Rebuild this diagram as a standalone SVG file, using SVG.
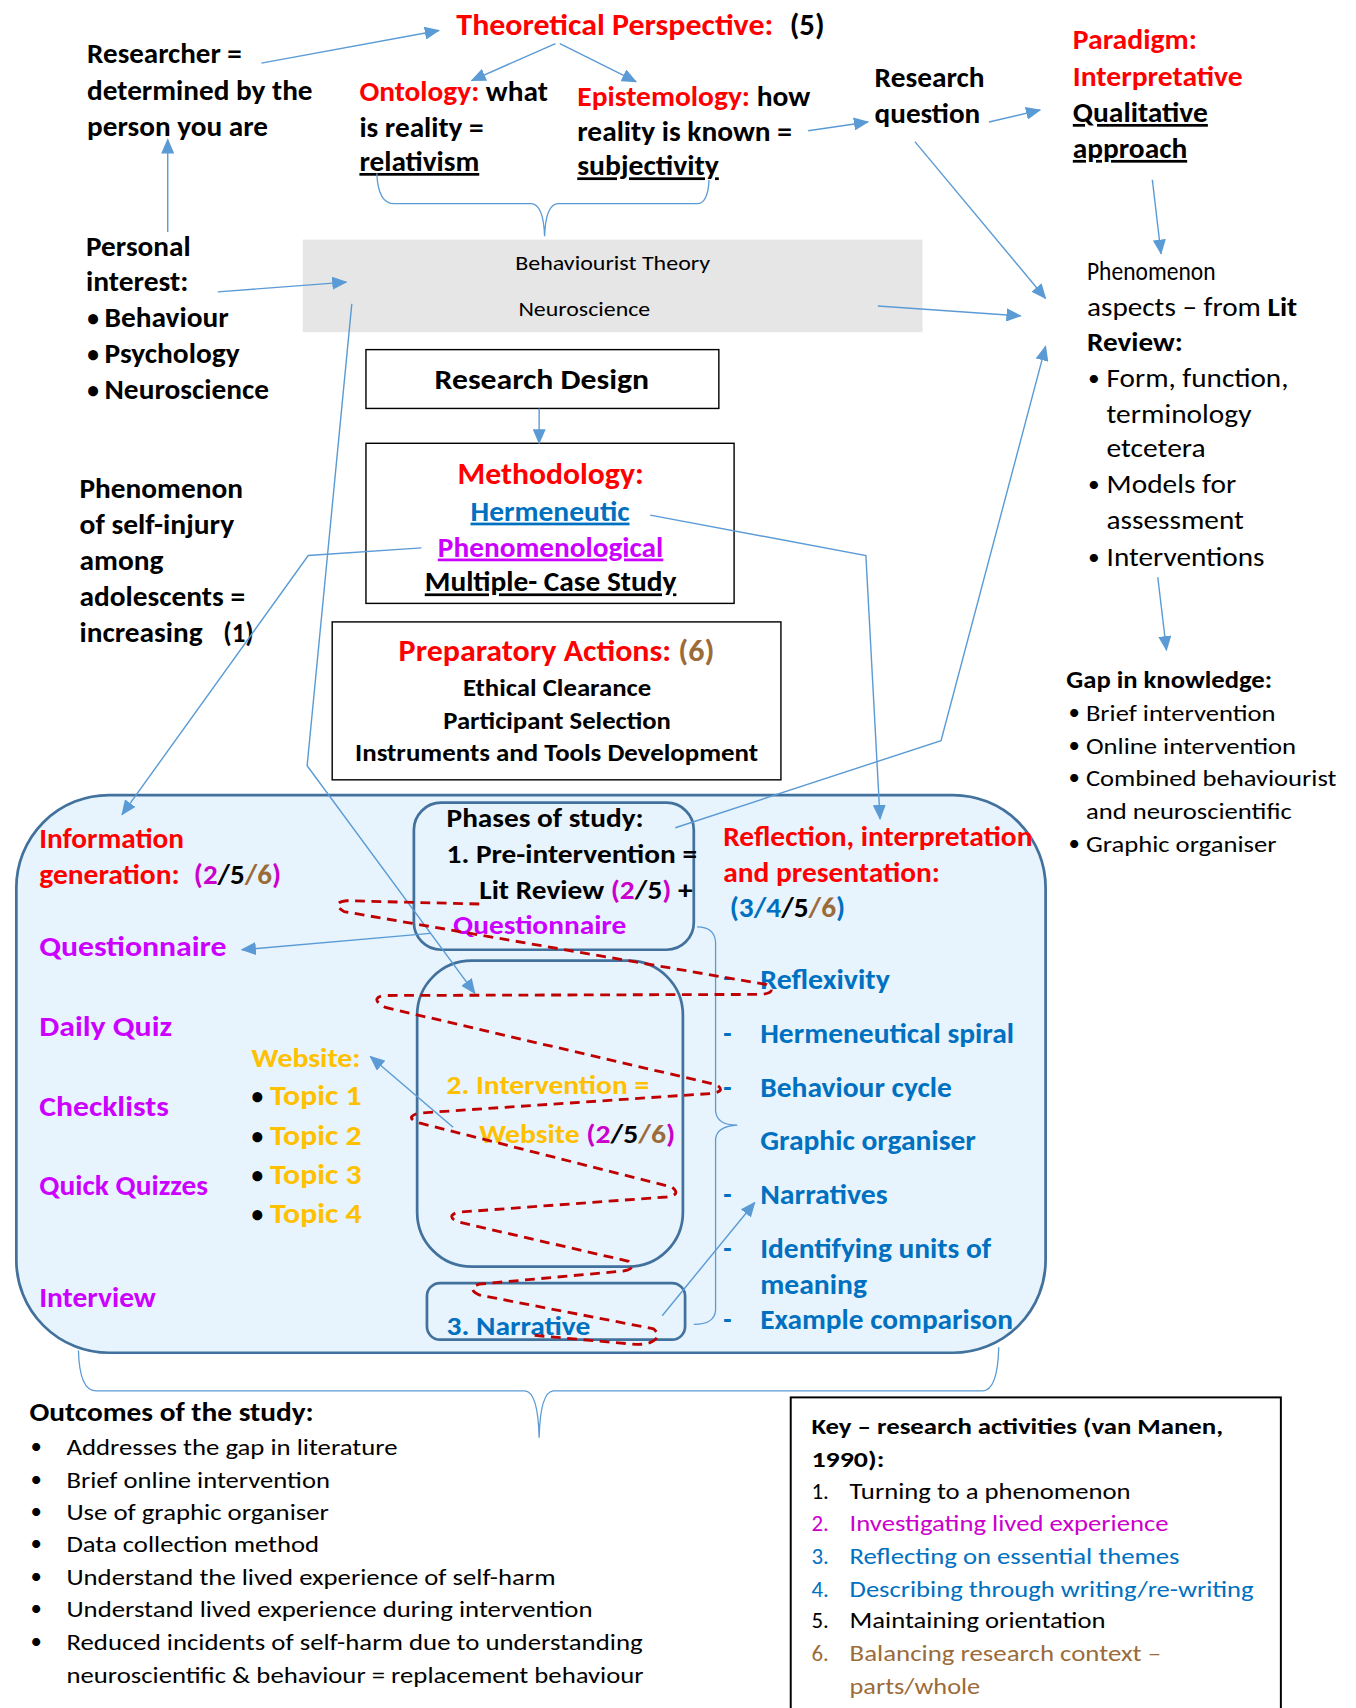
<svg xmlns="http://www.w3.org/2000/svg" width="1356" height="1708" viewBox="0 0 1356 1708">
<defs>
<style>
text{font-family:Carlito,Lato,"Open Sans","Liberation Sans",sans-serif;fill:#000}
.b{font-weight:700}
.u{text-decoration:underline}
.f17{font-size:18.5px}.f19{font-size:21px}.f20{font-size:21.5px}.f22{font-size:24px}.f23{font-size:25px}.f24{font-size:26px}.f25{font-size:27px}
.red{fill:#FF0000}.mag{fill:#CC00FF}.pk{fill:#CC00CC}.blu{fill:#0070C0}.org{fill:#FFC000}.brn{fill:#9C6B3A}.blk{fill:#000}
.box{fill:#fff;stroke:#000;stroke-width:1.3}
.rbox{fill:none;stroke:#41719C;stroke-width:2.5}
.c{fill:none;stroke:#5B9BD5;stroke-width:1.3}
.ca{fill:none;stroke:#5B9BD5;stroke-width:1.3;marker-end:url(#ah)}
.br{fill:none;stroke:#5B9BD5;stroke-width:1.2}
.sp{fill:none;stroke:#C00000;stroke-width:2.6;stroke-dasharray:9 6}
</style>
<marker id="ah" viewBox="0 0 14 12" refX="13" refY="6" markerWidth="14" markerHeight="12" orient="auto" markerUnits="userSpaceOnUse"><path d="M0,0 L14,6 L0,12 z" fill="#5B9BD5"/></marker>
</defs>
<rect width="1356" height="1708" fill="#fff"/>
<g transform="scale(1.08916)">

<g id="study-box">
<rect x="15" y="730" width="945" height="512" rx="85" fill="#E7F4FD" stroke="#41719C" stroke-width="2.5"/>
</g>

<g id="researcher">
<text class="b f23" x="80" y="58" textLength="142" lengthAdjust="spacingAndGlyphs">Researcher =</text>
<text class="b f23" x="80" y="92" textLength="207" lengthAdjust="spacingAndGlyphs">determined by the</text>
<text class="b f23" x="80" y="125" textLength="166" lengthAdjust="spacingAndGlyphs">person you are</text>
</g>

<g id="theoretical">
<text class="b f25 red" x="419" y="32" textLength="291" lengthAdjust="spacingAndGlyphs">Theoretical Perspective:</text>
<text class="b f25" x="725" y="32" textLength="32" lengthAdjust="spacingAndGlyphs">(5)</text>
</g>

<g id="ontology">
<text class="b f23" x="330" y="93" textLength="173" lengthAdjust="spacingAndGlyphs"><tspan class="red">Ontology:</tspan> what</text>
<text class="b f23" x="330" y="126" textLength="114" lengthAdjust="spacingAndGlyphs">is reality =</text>
<text class="b f23 u" x="330" y="157" textLength="110" lengthAdjust="spacingAndGlyphs">relativism</text>
</g>

<g id="epistemology">
<text class="b f23" x="530" y="97" textLength="214" lengthAdjust="spacingAndGlyphs"><tspan class="red">Epistemology:</tspan> how</text>
<text class="b f23" x="530" y="129" textLength="197" lengthAdjust="spacingAndGlyphs">reality is known =</text>
<text class="b f23 u" x="530" y="161" textLength="130" lengthAdjust="spacingAndGlyphs">subjectivity</text>
</g>

<g id="research-question">
<text class="b f23" x="803" y="80" textLength="101" lengthAdjust="spacingAndGlyphs">Research</text>
<text class="b f23" x="803" y="113" textLength="97" lengthAdjust="spacingAndGlyphs">question</text>
</g>

<g id="paradigm">
<text class="b f23 red" x="985" y="45" textLength="114" lengthAdjust="spacingAndGlyphs">Paradigm:</text>
<text class="b f23 red" x="985" y="79" textLength="156" lengthAdjust="spacingAndGlyphs">Interpretative</text>
<text class="b f23 u" x="985" y="112" textLength="124" lengthAdjust="spacingAndGlyphs">Qualitative</text>
<text class="b f23 u" x="985" y="145" textLength="105" lengthAdjust="spacingAndGlyphs">approach</text>
</g>

<g id="phenomenon-aspects">
<text class="f22" x="998" y="257" textLength="118" lengthAdjust="spacingAndGlyphs">Phenomenon</text>
<text class="f22" x="998" y="290" textLength="193" lengthAdjust="spacingAndGlyphs">aspects – from <tspan class="b">Lit</tspan></text>
<text class="f22 b" x="998" y="322" textLength="88" lengthAdjust="spacingAndGlyphs">Review:</text>
<text class="f20" x="999" y="354">•</text>
<text class="f22" x="1016" y="355" textLength="167" lengthAdjust="spacingAndGlyphs">Form, function,</text>
<text class="f22" x="1016" y="388" textLength="133" lengthAdjust="spacingAndGlyphs">terminology</text>
<text class="f22" x="1016" y="420" textLength="91" lengthAdjust="spacingAndGlyphs">etcetera</text>
<text class="f20" x="999" y="452">•</text>
<text class="f22" x="1016" y="453" textLength="119" lengthAdjust="spacingAndGlyphs">Models for</text>
<text class="f22" x="1016" y="486" textLength="126" lengthAdjust="spacingAndGlyphs">assessment</text>
<text class="f20" x="999" y="519">•</text>
<text class="f22" x="1016" y="520" textLength="145" lengthAdjust="spacingAndGlyphs">Interventions</text>
</g>

<g id="theory-box">
<rect x="278" y="220" width="569" height="85" fill="#E6E6E6"/>
<text class="f17" x="473" y="248" textLength="179" lengthAdjust="spacingAndGlyphs">Behaviourist Theory</text>
<text class="f17" x="476" y="290" textLength="121" lengthAdjust="spacingAndGlyphs">Neuroscience</text>
</g>

<g id="personal-interest">
<text class="b f23" x="79" y="235" textLength="96" lengthAdjust="spacingAndGlyphs">Personal</text>
<text class="b f23" x="79" y="267" textLength="94" lengthAdjust="spacingAndGlyphs">interest:</text>
<text class="b f20" x="80" y="299">•</text>
<text class="b f23" x="96" y="300" textLength="114" lengthAdjust="spacingAndGlyphs">Behaviour</text>
<text class="b f20" x="80" y="332">•</text>
<text class="b f23" x="96" y="333" textLength="124" lengthAdjust="spacingAndGlyphs">Psychology</text>
<text class="b f20" x="80" y="365">•</text>
<text class="b f23" x="96" y="366" textLength="151" lengthAdjust="spacingAndGlyphs">Neuroscience</text>
</g>

<g id="research-design">
<rect class="box" x="336" y="321" width="324" height="54"/>
<text class="b f24" x="399" y="357" textLength="197" lengthAdjust="spacingAndGlyphs">Research Design</text>
</g>

<g id="methodology">
<rect class="box" x="336" y="407" width="338" height="147"/>
<text class="b f25 red" x="420" y="444" textLength="171" lengthAdjust="spacingAndGlyphs">Methodology:</text>
<text class="b f23 blu u" x="432" y="478" textLength="146" lengthAdjust="spacingAndGlyphs">Hermeneutic</text>
<text class="b f23 mag u" x="402" y="511" textLength="207" lengthAdjust="spacingAndGlyphs">Phenomenological</text>
<text class="b f23 u" x="390" y="543" textLength="231" lengthAdjust="spacingAndGlyphs">Multiple- Case Study</text>
</g>

<g id="phenomenon-self-injury">
<text class="b f23" x="73" y="457" textLength="150" lengthAdjust="spacingAndGlyphs">Phenomenon</text>
<text class="b f23" x="73" y="490" textLength="142" lengthAdjust="spacingAndGlyphs">of self-injury</text>
<text class="b f23" x="73" y="523" textLength="77" lengthAdjust="spacingAndGlyphs">among</text>
<text class="b f23" x="73" y="556" textLength="152" lengthAdjust="spacingAndGlyphs">adolescents =</text>
<text class="b f23" x="73" y="589" textLength="113" lengthAdjust="spacingAndGlyphs">increasing</text>
<text class="b f23" x="205" y="589" textLength="28" lengthAdjust="spacingAndGlyphs">(1)</text>
</g>

<g id="preparatory-actions">
<rect class="box" x="305" y="571" width="412" height="145"/>
<text class="b f25" x="366" y="607" textLength="290" lengthAdjust="spacingAndGlyphs"><tspan class="red">Preparatory Actions: </tspan><tspan class="brn">(6)</tspan></text>
<text class="b f20" x="425" y="639" textLength="173" lengthAdjust="spacingAndGlyphs">Ethical Clearance</text>
<text class="b f20" x="407" y="669" textLength="209" lengthAdjust="spacingAndGlyphs">Participant Selection</text>
<text class="b f20" x="326" y="699" textLength="370" lengthAdjust="spacingAndGlyphs">Instruments and Tools Development</text>
</g>

<g id="gap-in-knowledge">
<text class="b f20" x="979" y="632" textLength="189" lengthAdjust="spacingAndGlyphs">Gap in knowledge:</text>
<text class="f19" x="981" y="661">•</text>
<text class="f20" x="997" y="662" textLength="174" lengthAdjust="spacingAndGlyphs">Brief intervention</text>
<text class="f19" x="981" y="691">•</text>
<text class="f20" x="997" y="692" textLength="193" lengthAdjust="spacingAndGlyphs">Online intervention</text>
<text class="f19" x="981" y="721">•</text>
<text class="f20" x="997" y="722" textLength="230" lengthAdjust="spacingAndGlyphs">Combined behaviourist</text>
<text class="f20" x="997" y="752" textLength="189" lengthAdjust="spacingAndGlyphs">and neuroscientific</text>
<text class="f19" x="981" y="781">•</text>
<text class="f20" x="997" y="782" textLength="175" lengthAdjust="spacingAndGlyphs">Graphic organiser</text>
</g>

<g id="information-generation">
<text class="b f23 red" x="36" y="779" textLength="133" lengthAdjust="spacingAndGlyphs">Information</text>
<text class="b f23 red" x="36" y="812" textLength="129" lengthAdjust="spacingAndGlyphs">generation:</text>
<text class="b f23" x="178" y="812" textLength="80" lengthAdjust="spacingAndGlyphs"><tspan class="pk">(2</tspan>/5<tspan class="brn">/6</tspan><tspan class="pk">)</tspan></text>
<text class="b f24 mag" x="36" y="878" textLength="172" lengthAdjust="spacingAndGlyphs">Questionnaire</text>
<text class="b f24 mag" x="36" y="951" textLength="122" lengthAdjust="spacingAndGlyphs">Daily Quiz</text>
<text class="b f24 mag" x="36" y="1025" textLength="119" lengthAdjust="spacingAndGlyphs">Checklists</text>
<text class="b f23 mag" x="36" y="1097" textLength="155" lengthAdjust="spacingAndGlyphs">Quick Quizzes</text>
<text class="b f23 mag" x="36" y="1200" textLength="107" lengthAdjust="spacingAndGlyphs">Interview</text>
</g>

<g id="website">
<text class="b f22 org" x="231" y="980" textLength="100" lengthAdjust="spacingAndGlyphs">Website:</text>
<text class="b f20" x="231" y="1014">•</text>
<text class="b f23 org" x="248" y="1015" textLength="84" lengthAdjust="spacingAndGlyphs">Topic 1</text>
<text class="b f20" x="231" y="1050">•</text>
<text class="b f23 org" x="248" y="1051" textLength="84" lengthAdjust="spacingAndGlyphs">Topic 2</text>
<text class="b f20" x="231" y="1086">•</text>
<text class="b f23 org" x="248" y="1087" textLength="84" lengthAdjust="spacingAndGlyphs">Topic 3</text>
<text class="b f20" x="231" y="1122">•</text>
<text class="b f23 org" x="248" y="1123" textLength="84" lengthAdjust="spacingAndGlyphs">Topic 4</text>
</g>

<g id="phases">
<rect class="rbox" x="380" y="737" width="257" height="135" rx="25"/>
<text class="b f22" x="410" y="759" textLength="181" lengthAdjust="spacingAndGlyphs">Phases of study:</text>
<text class="b f22" x="410" y="792" textLength="230" lengthAdjust="spacingAndGlyphs">1. Pre-intervention =</text>
<text class="b f22" x="440" y="825" textLength="196" lengthAdjust="spacingAndGlyphs">Lit Review <tspan class="pk">(2</tspan>/5<tspan class="pk">)</tspan> +</text>
<text class="b f22 mag" x="416" y="858" textLength="159" lengthAdjust="spacingAndGlyphs">Questionnaire</text>
</g>

<g id="intervention">
<rect class="rbox" x="383" y="882" width="244" height="281" rx="50"/>
<text class="b f22 org" x="410" y="1004" textLength="186" lengthAdjust="spacingAndGlyphs">2. Intervention =</text>
<text class="b f22" x="440" y="1049" textLength="180" lengthAdjust="spacingAndGlyphs"><tspan class="org">Website </tspan><tspan class="pk">(2</tspan>/5<tspan class="brn">/6</tspan><tspan class="pk">)</tspan></text>
</g>

<g id="narrative">
<rect class="rbox" x="392" y="1178" width="237" height="52" rx="12"/>
<text class="b f22 blu" x="410" y="1226" textLength="132" lengthAdjust="spacingAndGlyphs">3. Narrative</text>
</g>

<g id="reflection">
<text class="b f23 red" x="664" y="777" textLength="284" lengthAdjust="spacingAndGlyphs">Reflection, interpretation</text>
<text class="b f23 red" x="664" y="810" textLength="199" lengthAdjust="spacingAndGlyphs">and presentation:</text>
<text class="b f23" x="670" y="842" textLength="106" lengthAdjust="spacingAndGlyphs"><tspan class="blu">(3/4</tspan>/5<tspan class="brn">/6</tspan><tspan class="blu">)</tspan></text>
<text class="b f23 blu" x="664" y="906">-</text>
<text class="b f23 blu" x="698" y="908" textLength="119" lengthAdjust="spacingAndGlyphs">Reflexivity</text>
<text class="b f23 blu" x="664" y="958">-</text>
<text class="b f23 blu" x="698" y="958" textLength="233" lengthAdjust="spacingAndGlyphs">Hermeneutical spiral</text>
<text class="b f23 blu" x="664" y="1007">-</text>
<text class="b f23 blu" x="698" y="1007" textLength="176" lengthAdjust="spacingAndGlyphs">Behaviour cycle</text>
<text class="b f23 blu" x="698" y="1056" textLength="198" lengthAdjust="spacingAndGlyphs">Graphic organiser</text>
<text class="b f23 blu" x="664" y="1105">-</text>
<text class="b f23 blu" x="698" y="1105" textLength="117" lengthAdjust="spacingAndGlyphs">Narratives</text>
<text class="b f23 blu" x="664" y="1155">-</text>
<text class="b f23 blu" x="698" y="1155" textLength="212" lengthAdjust="spacingAndGlyphs">Identifying units of</text>
<text class="b f23 blu" x="698" y="1188" textLength="98" lengthAdjust="spacingAndGlyphs">meaning</text>
<text class="b f23 blu" x="664" y="1220">-</text>
<text class="b f23 blu" x="698" y="1220" textLength="232" lengthAdjust="spacingAndGlyphs">Example comparison</text>
</g>

<g id="outcomes">
<text class="b f22" x="27" y="1305" textLength="261" lengthAdjust="spacingAndGlyphs">Outcomes of the study:</text>
<text class="f19" x="28" y="1335">•</text>
<text class="f20" x="61" y="1336" textLength="304" lengthAdjust="spacingAndGlyphs">Addresses the gap in literature</text>
<text class="f19" x="28" y="1365">•</text>
<text class="f20" x="61" y="1366" textLength="242" lengthAdjust="spacingAndGlyphs">Brief online intervention</text>
<text class="f19" x="28" y="1395">•</text>
<text class="f20" x="61" y="1396" textLength="241" lengthAdjust="spacingAndGlyphs">Use of graphic organiser</text>
<text class="f19" x="28" y="1424">•</text>
<text class="f20" x="61" y="1425" textLength="232" lengthAdjust="spacingAndGlyphs">Data collection method</text>
<text class="f19" x="28" y="1454">•</text>
<text class="f20" x="61" y="1455" textLength="449" lengthAdjust="spacingAndGlyphs">Understand the lived experience of self-harm</text>
<text class="f19" x="28" y="1484">•</text>
<text class="f20" x="61" y="1485" textLength="483" lengthAdjust="spacingAndGlyphs">Understand lived experience during intervention</text>
<text class="f19" x="28" y="1514">•</text>
<text class="f20" x="61" y="1515" textLength="529" lengthAdjust="spacingAndGlyphs">Reduced incidents of self-harm due to understanding</text>
<text class="f20" x="61" y="1545" textLength="530" lengthAdjust="spacingAndGlyphs">neuroscientific &amp; behaviour = replacement behaviour</text>
</g>

<g id="key">
<rect x="726" y="1283" width="450" height="300" fill="#fff" stroke="#000" stroke-width="1.8"/>
<text class="b f19" x="745" y="1317" textLength="378" lengthAdjust="spacingAndGlyphs">Key – research activities (van Manen,</text>
<text class="b f19" x="745" y="1347" textLength="67" lengthAdjust="spacingAndGlyphs">1990):</text>
<text class="f19" x="745" y="1376">1.</text>
<text class="f19" x="780" y="1376" textLength="258" lengthAdjust="spacingAndGlyphs">Turning to a phenomenon</text>
<text class="f19 pk" x="745" y="1406">2.</text>
<text class="f19 pk" x="780" y="1406" textLength="293" lengthAdjust="spacingAndGlyphs">Investigating lived experience</text>
<text class="f19 blu" x="745" y="1436">3.</text>
<text class="f19 blu" x="780" y="1436" textLength="303" lengthAdjust="spacingAndGlyphs">Reflecting on essential themes</text>
<text class="f19 blu" x="745" y="1466">4.</text>
<text class="f19 blu" x="780" y="1466" textLength="371" lengthAdjust="spacingAndGlyphs">Describing through writing/re-writing</text>
<text class="f19" x="745" y="1495">5.</text>
<text class="f19" x="780" y="1495" textLength="235" lengthAdjust="spacingAndGlyphs">Maintaining orientation</text>
<text class="f19 brn" x="745" y="1525">6.</text>
<text class="f19 brn" x="780" y="1525" textLength="286" lengthAdjust="spacingAndGlyphs">Balancing research context –</text>
<text class="f19 brn" x="780" y="1555" textLength="120" lengthAdjust="spacingAndGlyphs">parts/whole</text>
</g>

<g id="connectors">
<path class="ca" d="M240,58 L403,28"/>
<path class="ca" d="M510,40 L433,74"/>
<path class="ca" d="M514,40 L584,75"/>
<path class="ca" d="M742,120 L797,112"/>
<path class="ca" d="M908,112 L955,101"/>
<path class="ca" d="M1058,165 L1066,233"/>
<path class="ca" d="M840,130 L960,274"/>
<path class="ca" d="M806,281 L937,290"/>
<path class="ca" d="M154,213 L154,128"/>
<path class="ca" d="M200,268 L318,259"/>
<path class="ca" d="M495,375 L495,407"/>
<path class="ca" d="M387,503 L283,510 L112,748"/>
<path class="ca" d="M597,473 L795,510 L808,752"/>
<path class="ca" d="M323,279 L282,703 L436,912"/>
<path class="ca" d="M620,760 L864,680 L960,318"/>
<path class="ca" d="M1063,530 L1071,597"/>
<path class="ca" d="M395,857 L222,872"/>
<path class="ca" d="M416,1035 L340,970"/>
<path class="ca" d="M608,1208 L693,1104"/>
<path class="br" d="M346,159 Q347,187 362,187 L488,187 Q499,188 500,217 Q501,188 512,187 L640,187 Q650,187 651,165"/>
<path class="br" d="M640,851 Q656,851 657,865 L657,1020 Q658,1033 677,1033 Q658,1034 657,1046 L657,1203 Q656,1216 637,1216"/>
<path class="br" d="M72,1240 Q73,1277 88,1277 L482,1277 Q494,1278 495,1320 Q496,1278 508,1277 L902,1277 Q916,1277 917,1237"/>
</g>

<g id="spiral">
<path class="sp" d="M440,830 L318,827 Q303,829 316,837 L704,904 Q714,911 700,913 L352,914 Q339,917 354,925 L658,996 Q667,1002 653,1004 L384,1022 Q371,1026 385,1031 L617,1090 Q626,1097 612,1099 L420,1113 Q409,1117 421,1122 L577,1158 Q585,1165 572,1167 L440,1179 Q428,1183 440,1189 L600,1220 Q609,1228 596,1233 Q590,1235 580,1234 L490,1226"/>
</g>

</g>
</svg>
